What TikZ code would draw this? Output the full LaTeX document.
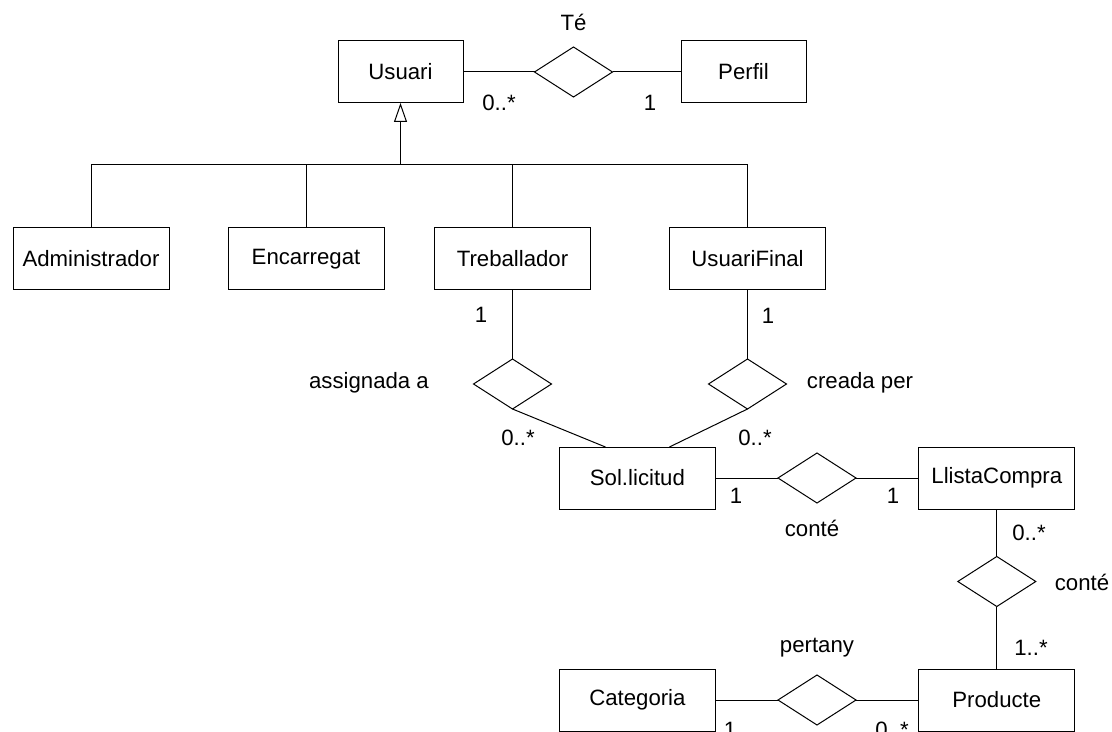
\documentclass[tikz,border=0pt]{standalone}
\usepackage{fontspec}
\setmainfont{Liberation Sans}
\usetikzlibrary{shapes.geometric,arrows.meta}
\tikzset{
  ent/.style={draw,rectangle,minimum width=78pt,minimum height=31pt,inner sep=0pt,outer sep=0pt},
  sment/.style={ent,minimum width=62.5pt},
  rel/.style={draw,diamond,minimum width=39pt,minimum height=25pt,inner sep=0pt,outer sep=0pt},
  lbl/.style={inner sep=0pt,outer sep=0pt},
  conn/.style={line width=0.5pt},
}
\begin{document}
\begin{tikzpicture}[x=0.5pt,y=-0.5pt,line width=0.5pt,font=\fontsize{11.1}{13}\selectfont]
\useasboundingbox (0,0) rectangle (1112,732);
% entities
\node[sment] (usuari) at (400.5,72) {Usuari};
\node[sment] (perfil) at (743.5,72) {Perfil};
\node[ent] (admin) at (91,259) {Administrador};
\node[ent] (encarregat) at (306,259) {Encarregat};
\node[ent] (treballador) at (512.5,259) {Treballador};
\node[ent] (usuarifinal) at (747.5,259) {UsuariFinal};
\node[ent] (sol) at (637.4,478) {Sol.licitud};
\node[ent] (llista) at (996.8,478) {LlistaCompra};
\node[ent] (categoria) at (637.4,700) {Categoria};
\node[ent] (producte) at (996.8,700) {Producte};
% relations
\node[rel] (te) at (573.5,72) {};
\node[rel] (assignada) at (512.5,384) {};
\node[rel] (creada) at (747.5,384) {};
\node[rel] (conte1) at (817,478) {};
\node[rel] (conte2) at (996.8,581.5) {};
\node[rel] (pertany) at (817,700) {};
% connectors
\draw[conn] (usuari) -- (te) -- (perfil);
\coordinate (hbar) at (400.5,165);
\draw[conn,-{Triangle[open,length=9.5pt,width=6.5pt]}] (hbar) -- (usuari.south);
\draw[conn] (admin.north) |- (usuarifinal.north |- hbar) -- (usuarifinal.north);
\draw[conn] (encarregat.north) -- (encarregat.north |- hbar);
\draw[conn] (treballador.north) -- (treballador.north |- hbar);
\draw[conn] (treballador.south) -- (assignada.north);
\draw[conn] (usuarifinal.south) -- (creada.north);
\draw[conn] (assignada.south) -- ([xshift=-16pt]sol.north);
\draw[conn] (creada.south) -- ([xshift=16pt]sol.north);
\draw[conn] (sol) -- (conte1) -- (llista);
\draw[conn] (llista) -- (conte2) -- (producte);
\draw[conn] (categoria) -- (pertany) -- (producte);
% labels
\node[lbl] (lte) at (573.5,22) {Té};
\node[lbl] (m1) at (499,103) {0..*};
\node[lbl] (m2) at (650,103) {1};
\node[lbl] (m3) at (481,315) {1};
\node[lbl] (m4) at (768,316) {1};
\node[lbl] (lassig) at (369,383) {assignada a};
\node[lbl] (lcreada) at (860,383) {creada per};
\node[lbl] (m5) at (518,438) {0..*};
\node[lbl] (m6) at (755,438) {0..*};
\node[lbl] (m7) at (736,496) {1};
\node[lbl] (m8) at (893,496) {1};
\node[lbl] (lconte1) at (812,528) {conté};
\node[lbl] (m9) at (1029,533) {0..*};
\node[lbl] (lconte2) at (1082,582) {conté};
\node[lbl] (m10) at (1031,648) {1..*};
\node[lbl] (lpertany) at (817,648) {pertany};
\node[lbl] (m11) at (730,730) {1};
\node[lbl] (m12) at (892,730) {0..*};
\end{tikzpicture}
\end{document}
